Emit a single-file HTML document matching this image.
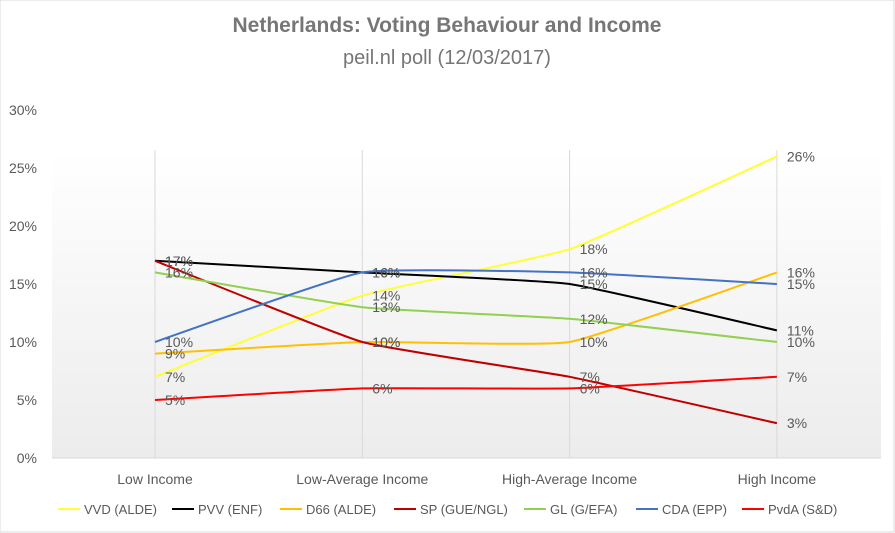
<!DOCTYPE html>
<html><head><meta charset="utf-8"><style>
body{margin:0;background:#fff;}
svg{display:block;font-family:"Liberation Sans",sans-serif;}
</style></head><body>
<svg id="chart" width="895" height="533">
<defs><linearGradient id="bg" x1="0" y1="0" x2="0" y2="1"><stop offset="0" stop-color="#ffffff"/><stop offset="1" stop-color="#ececec"/></linearGradient></defs>
<rect x="0" y="0" width="894" height="532" fill="#fff" stroke="#d9d9d9"/>
<text x="447" y="32" text-anchor="middle" font-size="21" font-weight="bold" fill="#767676">Netherlands: Voting Behaviour and Income</text>
<text x="447" y="64" text-anchor="middle" font-size="20" fill="#767676">peil.nl poll (12/03/2017)</text>
<rect x="52" y="150" width="829" height="308" fill="url(#bg)"/>
<g id="axes"></g><g id="series"></g><g id="labels"></g><g id="legend"></g>
</svg>
<script>
const categories=["Low Income","Low-Average Income","High-Average Income","High Income"];
const yTicks=[0,5,10,15,20,25,30];
const seriesNames=["VVD (ALDE)","PVV (ENF)","D66 (ALDE)","SP (GUE/NGL)","GL (G/EFA)","CDA (EPP)","PvdA (S&D)"];
const seriesColors=["#ffff33","#000000","#ffc000","#c00000","#92d050","#4472c4","#ff0000"];
const vvd=[7,14,18,26];
const pvv=[17,16,15,11];
const d66=[9,10,10,16];
const sp=[17,10,7,3];
const gl=[16,13,12,10];
const cda=[10,16,16,15];
const pvda=[5,6,6,7];
const allSeries=[vvd,pvv,d66,sp,gl,cda,pvda];
const NS="http://www.w3.org/2000/svg";
function x(i){return 155+i*207.3;}
function y(v){return 458-v*11.6;}
function mk(tag,attrs,parent,txt){const e=document.createElementNS(NS,tag);for(const k in attrs)e.setAttribute(k,attrs[k]);if(txt!==undefined)e.textContent=txt;parent.appendChild(e);return e;}
const axes=document.getElementById('axes');
categories.forEach((c,i)=>{
  const gl_=mk('line',{x1:x(i),x2:x(i),y1:150,y2:458,stroke:'#d9d9d9'},axes);
  
  
  const t=mk('text',{x:x(i),y:484,'text-anchor':'middle','font-size':14,fill:'#595959'},axes,c);
  
  
});
const base=mk('line',{x1:52,x2:881,y1:458,y2:458,stroke:'#d9d9d9'},axes);


yTicks.forEach(v=>{
  const t=mk('text',{x:37,y:y(v)+5,'text-anchor':'end','font-size':14,fill:'#595959'},axes,v+'%');
  
  
});
function smooth(pts){
  let d='M'+pts[0][0]+','+pts[0][1];
  for(let i=0;i<pts.length-1;i++){
    const p0=pts[i-1]||pts[i],p1=pts[i],p2=pts[i+1],p3=pts[i+2]||p2;
    const t=1/16;
    const c1=[p1[0]+(p2[0]-p0[0])*t,p1[1]+(p2[1]-p0[1])*t];
    const c2=[p2[0]-(p3[0]-p1[0])*t,p2[1]-(p3[1]-p1[1])*t];
    d+=' C'+c1[0]+','+c1[1]+' '+c2[0]+','+c2[1]+' '+p2[0]+','+p2[1];
  }
  return d;
}
const sg=document.getElementById('series'),lg=document.getElementById('labels');
allSeries.forEach((s,k)=>{
  const pts=s.map((v,i)=>[x(i),y(v)]);
  const p=mk('path',{d:smooth(pts),fill:'none',stroke:seriesColors[k],'stroke-width':2},sg);
  
  
  s.forEach((v,i)=>{
    const t=mk('text',{x:x(i)+10,y:y(v)+5,'font-size':14,fill:'#595959'},lg,v+'%');
    
    
  });
});
const leg=document.getElementById('legend');
const legX=[58,172,280,394,524,636,742];
seriesNames.forEach((n,k)=>{
  const l=mk('line',{x1:legX[k],x2:legX[k]+22,y1:509,y2:509,stroke:seriesColors[k],'stroke-width':2},leg);
  
  
  const t=mk('text',{x:legX[k]+26,y:514,'font-size':13,fill:'#595959'},leg,n);
  
  
});
</script>
</body></html>
